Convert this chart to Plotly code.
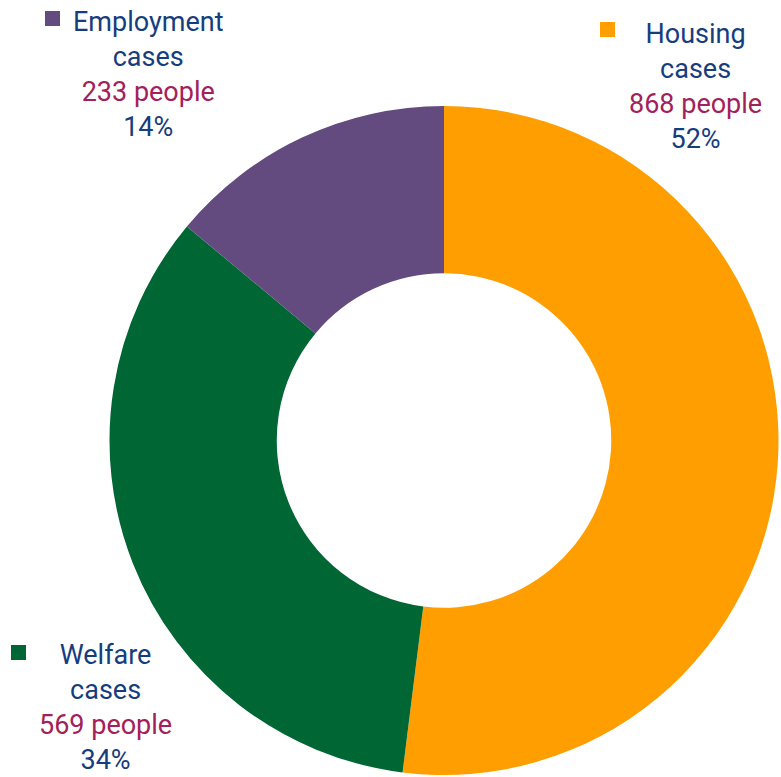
import plotly.graph_objects as go

# Case categories, counts and slice colours (clockwise from 12 o'clock)
categories = ["Housing", "Welfare", "Employment"]
people = [868, 569, 233]
colors = ["#FF9E00", "#006633", "#634B7F"]

W, H = 781, 777
NAVY = "#163D7D"
MAGENTA = "#A3205A"

total = sum(people)
percents = [round(v * 100 / total) for v in people]

fig = go.Figure(
    go.Pie(
        labels=categories,
        values=people,
        hole=0.5,
        sort=False,
        direction="clockwise",
        rotation=0,
        marker=dict(colors=colors, line=dict(width=0)),
        textinfo="none",
        hoverinfo="label+value+percent",
        showlegend=False,
        domain=dict(x=[108 / W, 780 / W], y=[2 / H, 671 / H]),
    )
)

# Label block centre (px) and legend-square box (px) for each category
label_pos = {
    "Housing": (695, 86.5, (600, 22, 615, 37)),
    "Welfare": (105, 707.5, (11, 645, 26, 660)),
    "Employment": (148, 74, (45, 11, 60, 26)),
}

annotations = []
shapes = []
for name, val, pct, col in zip(categories, people, percents, colors):
    cx, cy, (x0, y0, x1, y1) = label_pos[name]
    text = (
        f"{name}<br>cases<br>"
        f"<span style='color:{MAGENTA}'>{val} people</span><br>{pct}%"
    )
    annotations.append(
        dict(
            x=cx / W, y=1 - cy / H, xref="paper", yref="paper",
            xanchor="center", yanchor="middle",
            text=text, showarrow=False, align="center",
            font=dict(family="Roboto", size=27, color=NAVY),
        )
    )
    shapes.append(
        dict(
            type="rect", xref="paper", yref="paper",
            x0=x0 / W, x1=x1 / W, y0=1 - y1 / H, y1=1 - y0 / H,
            fillcolor=col, line=dict(width=0),
        )
    )

fig.update_layout(
    width=W, height=H,
    margin=dict(l=0, r=0, t=0, b=0),
    paper_bgcolor="white",
    plot_bgcolor="white",
    annotations=annotations,
    shapes=shapes,
)

fig.write_html("out.html")
